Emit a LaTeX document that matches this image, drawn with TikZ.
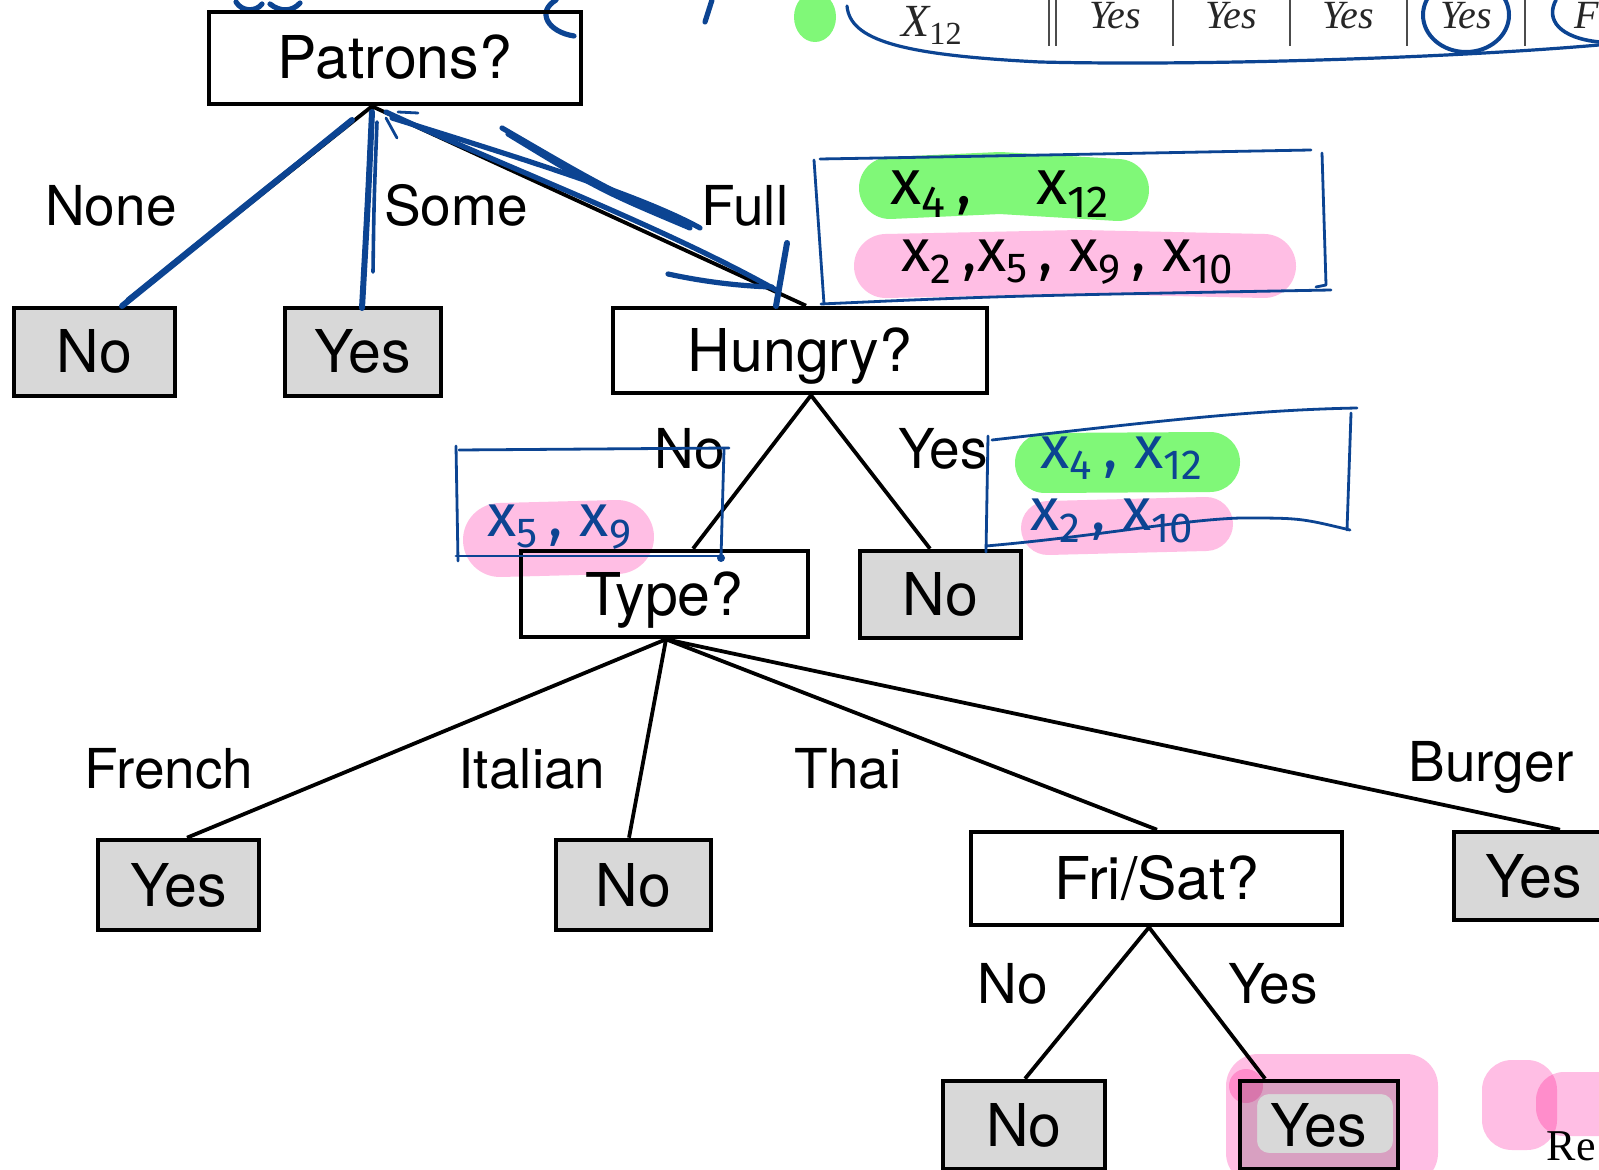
\documentclass[tikz,border=0pt]{standalone}
\usepackage{fontspec}
\setmainfont{TeX Gyre Heros}
\newfontfamily\serifrm{Liberation Serif}
\newfontfamily\handfam{Fira Sans}
\usetikzlibrary{calc}
\definecolor{ink}{RGB}{12,68,146}
\definecolor{hlgreen}{RGB}{128,248,120}
\definecolor{hlpink}{RGB}{255,190,228}
\definecolor{leafgray}{RGB}{216,216,216}
\newcommand\treefont{\fontsize{29.5}{32}\selectfont}
\newcommand\labfont{\fontsize{27.5}{30}\selectfont}
\newcommand\xs[1]{x\textsubscript{#1}}
\begin{document}
\begin{tikzpicture}[x=0.5pt,y=-0.5pt,
  dec/.style={draw=black, line width=2.3pt, inner sep=0pt, text height=21pt, text depth=0pt, font=\treefont},
  leaf/.style={dec, fill=leafgray},
  lab/.style={font=\labfont, anchor=base, inner sep=0pt},
  edge/.style={draw=black, line width=1.9pt},
  pen/.style={draw=ink, line width=2.6pt, line cap=round, line join=round},
  thinpen/.style={draw=ink, line width=1.4pt, line cap=round, line join=round},
  hl/.style={line cap=round, line join=round, blend mode=multiply},
  hand/.style={inner sep=0pt, anchor=center},
  tab/.style={font=\serifrm\fontsize{20}{22}\selectfont\itshape, anchor=base, inner sep=0pt, text=black!85}
]
\useasboundingbox (0,0) rectangle (1599,1170);
\clip (0,0) rectangle (1599,1170);
\fill[white] (0,0) rectangle (1599,1170);

% ---------- table strip at top ----------
\fill[hlgreen] (815,17) ellipse [x radius=21, y radius=25];
\node[tab, font=\serifrm\fontsize{23}{25}\selectfont\itshape] (x12) at (932,37) {X\textsubscript{\upshape 12}};
\foreach \i/\xx in {1/1115,2/1231,3/1348,4/1466}{
  \node[tab] (y\i) at (\xx,29) {Yes};
}
\node[tab, anchor=base west] (fcut) at (1574,29) {F};
\foreach \xx in {1049,1056,1173,1290,1407,1525}{
  \draw[black!70, line width=1pt] (\xx,0) -- (\xx,46);
}
\draw[pen, line width=1.6pt] (847,6) .. controls (850,40) and (900,55) .. (1040,62)
  .. controls (1200,66) and (1450,58) .. (1599,45);
\draw[pen, line width=2pt] (1466,15) ellipse [x radius=43, y radius=37];
\draw[pen, line width=1.8pt] (1556,0) .. controls (1545,20) and (1560,38) .. (1599,42);
% handwriting fragments at the top
\draw[pen] (236,2) .. controls (242,12) and (256,12) .. (262,4);
\draw[pen] (270,4) .. controls (280,12) and (292,12) .. (300,3);
\draw[pen] (556,0) .. controls (536,12) and (548,32) .. (574,36);
\draw[pen] (712,0) -- (705,22);

% ---------- decision tree ----------
\node[dec, minimum width=186pt, minimum height=46pt] (pat) at (395,58) {Patrons?};
\node[leaf, minimum width=80.5pt, minimum height=44pt] (lno) at (94.5,352) {No};
\node[leaf, minimum width=78pt, minimum height=44pt] (lyes) at (363,352) {Yes};
\node[dec, minimum width=187pt, minimum height=42.5pt] (hun) at (800,350.5) {Hungry?};
\node[dec, minimum width=143.5pt, minimum height=43pt] (type) at (664.5,594) {Type?};
\node[leaf, minimum width=80.5pt, minimum height=43.5pt] (hno) at (940.5,594.5) {No};
\node[leaf, minimum width=80.5pt, minimum height=45pt] (fyes) at (178.5,885) {Yes};
\node[leaf, minimum width=77.5pt, minimum height=45pt] (ino) at (633.5,885) {No};
\node[dec, minimum width=185.5pt, minimum height=46.5pt] (fri) at (1156.5,878.5) {Fri/Sat?};
\node[leaf, minimum width=80pt, minimum height=44pt] (byes) at (1534,876) {Yes};
\node[leaf, minimum width=81pt, minimum height=44pt] (fno) at (1024,1125) {No};
\node[leaf, minimum width=79pt, minimum height=44pt] (fyes2) at (1319,1125) {Yes};

\draw[edge] ($(pat.south)+(-23,0)$) -- ($(lno.north)+(27.5,0)$);
\draw[edge] ($(pat.south)+(-23,0)$) -- ($(lyes.north)+(-1,0)$);
\draw[edge] ($(pat.south)+(-23,0)$) -- ($(hun.north)+(6,0)$);
\draw[edge] ($(hun.south)+(11,0)$) -- ($(type.north)+(28.5,0)$);
\draw[edge] ($(hun.south)+(11,0)$) -- ($(hno.north)+(-10.5,0)$);
\draw[edge] ($(type.south)+(1.5,0)$) -- ($(fyes.north)+(8.5,0)$);
\draw[edge] ($(type.south)+(1.5,0)$) -- ($(ino.north)+(-4.5,0)$);
\draw[edge] ($(type.south)+(1.5,0)$) -- ($(fri.north)+(0.5,0)$);
\draw[edge] ($(type.south)+(1.5,0)$) -- ($(byes.north)+(26,0)$);
\draw[edge] ($(fri.south)+(-7.5,0)$) -- ($(fno.north)+(1,0)$);
\draw[edge] ($(fri.south)+(-7.5,0)$) -- ($(fyes2.north)+(-54,0)$);

\node[lab] (lnone) at (111,226) {None};
\node[lab] (lsome) at (456,226) {Some};
\node[lab] (lfull) at (745,226) {Full};
\node[lab] (lhno) at (690,469) {No};
\node[lab] (lhyes) at (943,469) {Yes};
\node[lab] (lfr) at (169,788) {French};
\node[lab] (lit) at (532,788) {Italian};
\node[lab] (lth) at (848,788) {Thai};
\node[lab] (lbu) at (1491,781) {Burger};
\node[lab] (lfno) at (1013,1003) {No};
\node[lab] (lfyes) at (1273,1003) {Yes};

\node[font=\serifrm\fontsize{22}{24}\selectfont, anchor=base east, inner sep=0pt] (re) at (1596,1160) {Re};

% ---------- highlighter ----------
\draw[hl, hlgreen, line width=31pt] (890,188) -- (1000,183) -- (1118,190);
\draw[hl, hlpink, line width=32pt] (886,266) -- (1080,262) -- (1264,266);
\draw[hl, hlpink, line width=37pt] (500,540) -- (617,537);
\draw[hl, hlgreen, line width=30pt] (1045,463) -- (1210,462);
\draw[hl, hlpink, line width=27pt] (1048,528) -- (1206,524);
\fill[hl, hlpink, even odd rule]
  [rounded corners=16pt] (1226,1054) rectangle (1438,1185)
  [rounded corners=6pt] (1257,1094) rectangle (1393,1153);
\fill[hl, hlpink] (1246,1086) circle [radius=17];
\fill[hl, hlpink, rounded corners=15pt] (1482,1060) rectangle (1557,1150);
\fill[hl, hlpink, rounded corners=14pt] (1536,1072) rectangle (1630,1136);

% ---------- handwritten sets ----------
\node[hand, font=\handfam\fontsize{32}{34}\selectfont, text=black] (s1a) at (1000,194) {\xs{4}\,,\quad\xs{12}};
\node[hand, font=\handfam\fontsize{30}{32}\selectfont, text=black] (s1b) at (1068,262) {\xs{2}\,,\xs{5}\,,\;\xs{9}\,,\;\xs{10}};
\node[hand, font=\handfam\fontsize{30}{32}\selectfont, text=ink] (s2) at (560,527) {\xs{5}\,,\;\xs{9}};
\node[hand, font=\handfam\fontsize{30}{32}\selectfont, text=ink] (s3a) at (1122,458) {\xs{4}\,,\;\xs{12}};
\node[hand, font=\handfam\fontsize{30}{32}\selectfont, text=ink] (s3b) at (1112,521) {\xs{2}\,,\;\xs{10}};

% ---------- pen strokes over the Patrons edges ----------
\draw[pen, line width=3pt] (352,120) -- (122,306);
\draw[pen] (346,126) .. controls (270,185) .. (128,300);
\draw[pen, line width=3pt] (372,112) .. controls (368,200) .. (362,308);
\draw[pen, line width=1.8pt] (377,122) .. controls (374,200) .. (373,272);
\draw[pen] (386,112) .. controls (500,165) and (660,225) .. (776,290);
\draw[pen] (392,118) .. controls (520,158) and (640,195) .. (700,228);
\draw[pen] (502,128) .. controls (600,185) .. (690,228) .. controls (600,190) .. (508,134);
\draw[pen] (668,274) .. controls (705,282) and (740,286) .. (772,287);
\draw[pen, line width=3pt] (787,243) -- (776,306);
\draw[thinpen] (398,112) -- (418,113);
\draw[thinpen] (386,118) -- (397,138);

% ---------- brackets around the sets ----------
\draw[thinpen] (814,160) -- (824,304);
\draw[thinpen] (820,159) .. controls (1000,156) and (1200,152) .. (1311,150);
\draw[thinpen] (1322,153) -- (1326,285) -- (1316,287);
\draw[thinpen] (821,304) .. controls (1000,296) .. (1331,290);

\draw[thinpen] (456,446) -- (458,561);
\draw[thinpen] (459,450) -- (729,448);
\draw[thinpen] (724,449) -- (721,558);
\fill[ink] (721,558) circle [radius=4];
\draw[thinpen] (456,556) -- (722,556);

\draw[thinpen] (988,436) -- (986,552);
\draw[thinpen] (992,440) .. controls (1150,422) and (1250,410) .. (1357,408);
\draw[thinpen] (1351,413) -- (1347,530);
\draw[thinpen] (986,546) .. controls (1100,536) and (1180,520) .. (1240,518) .. controls (1300,518) .. (1350,530);
\end{tikzpicture}
\end{document}
